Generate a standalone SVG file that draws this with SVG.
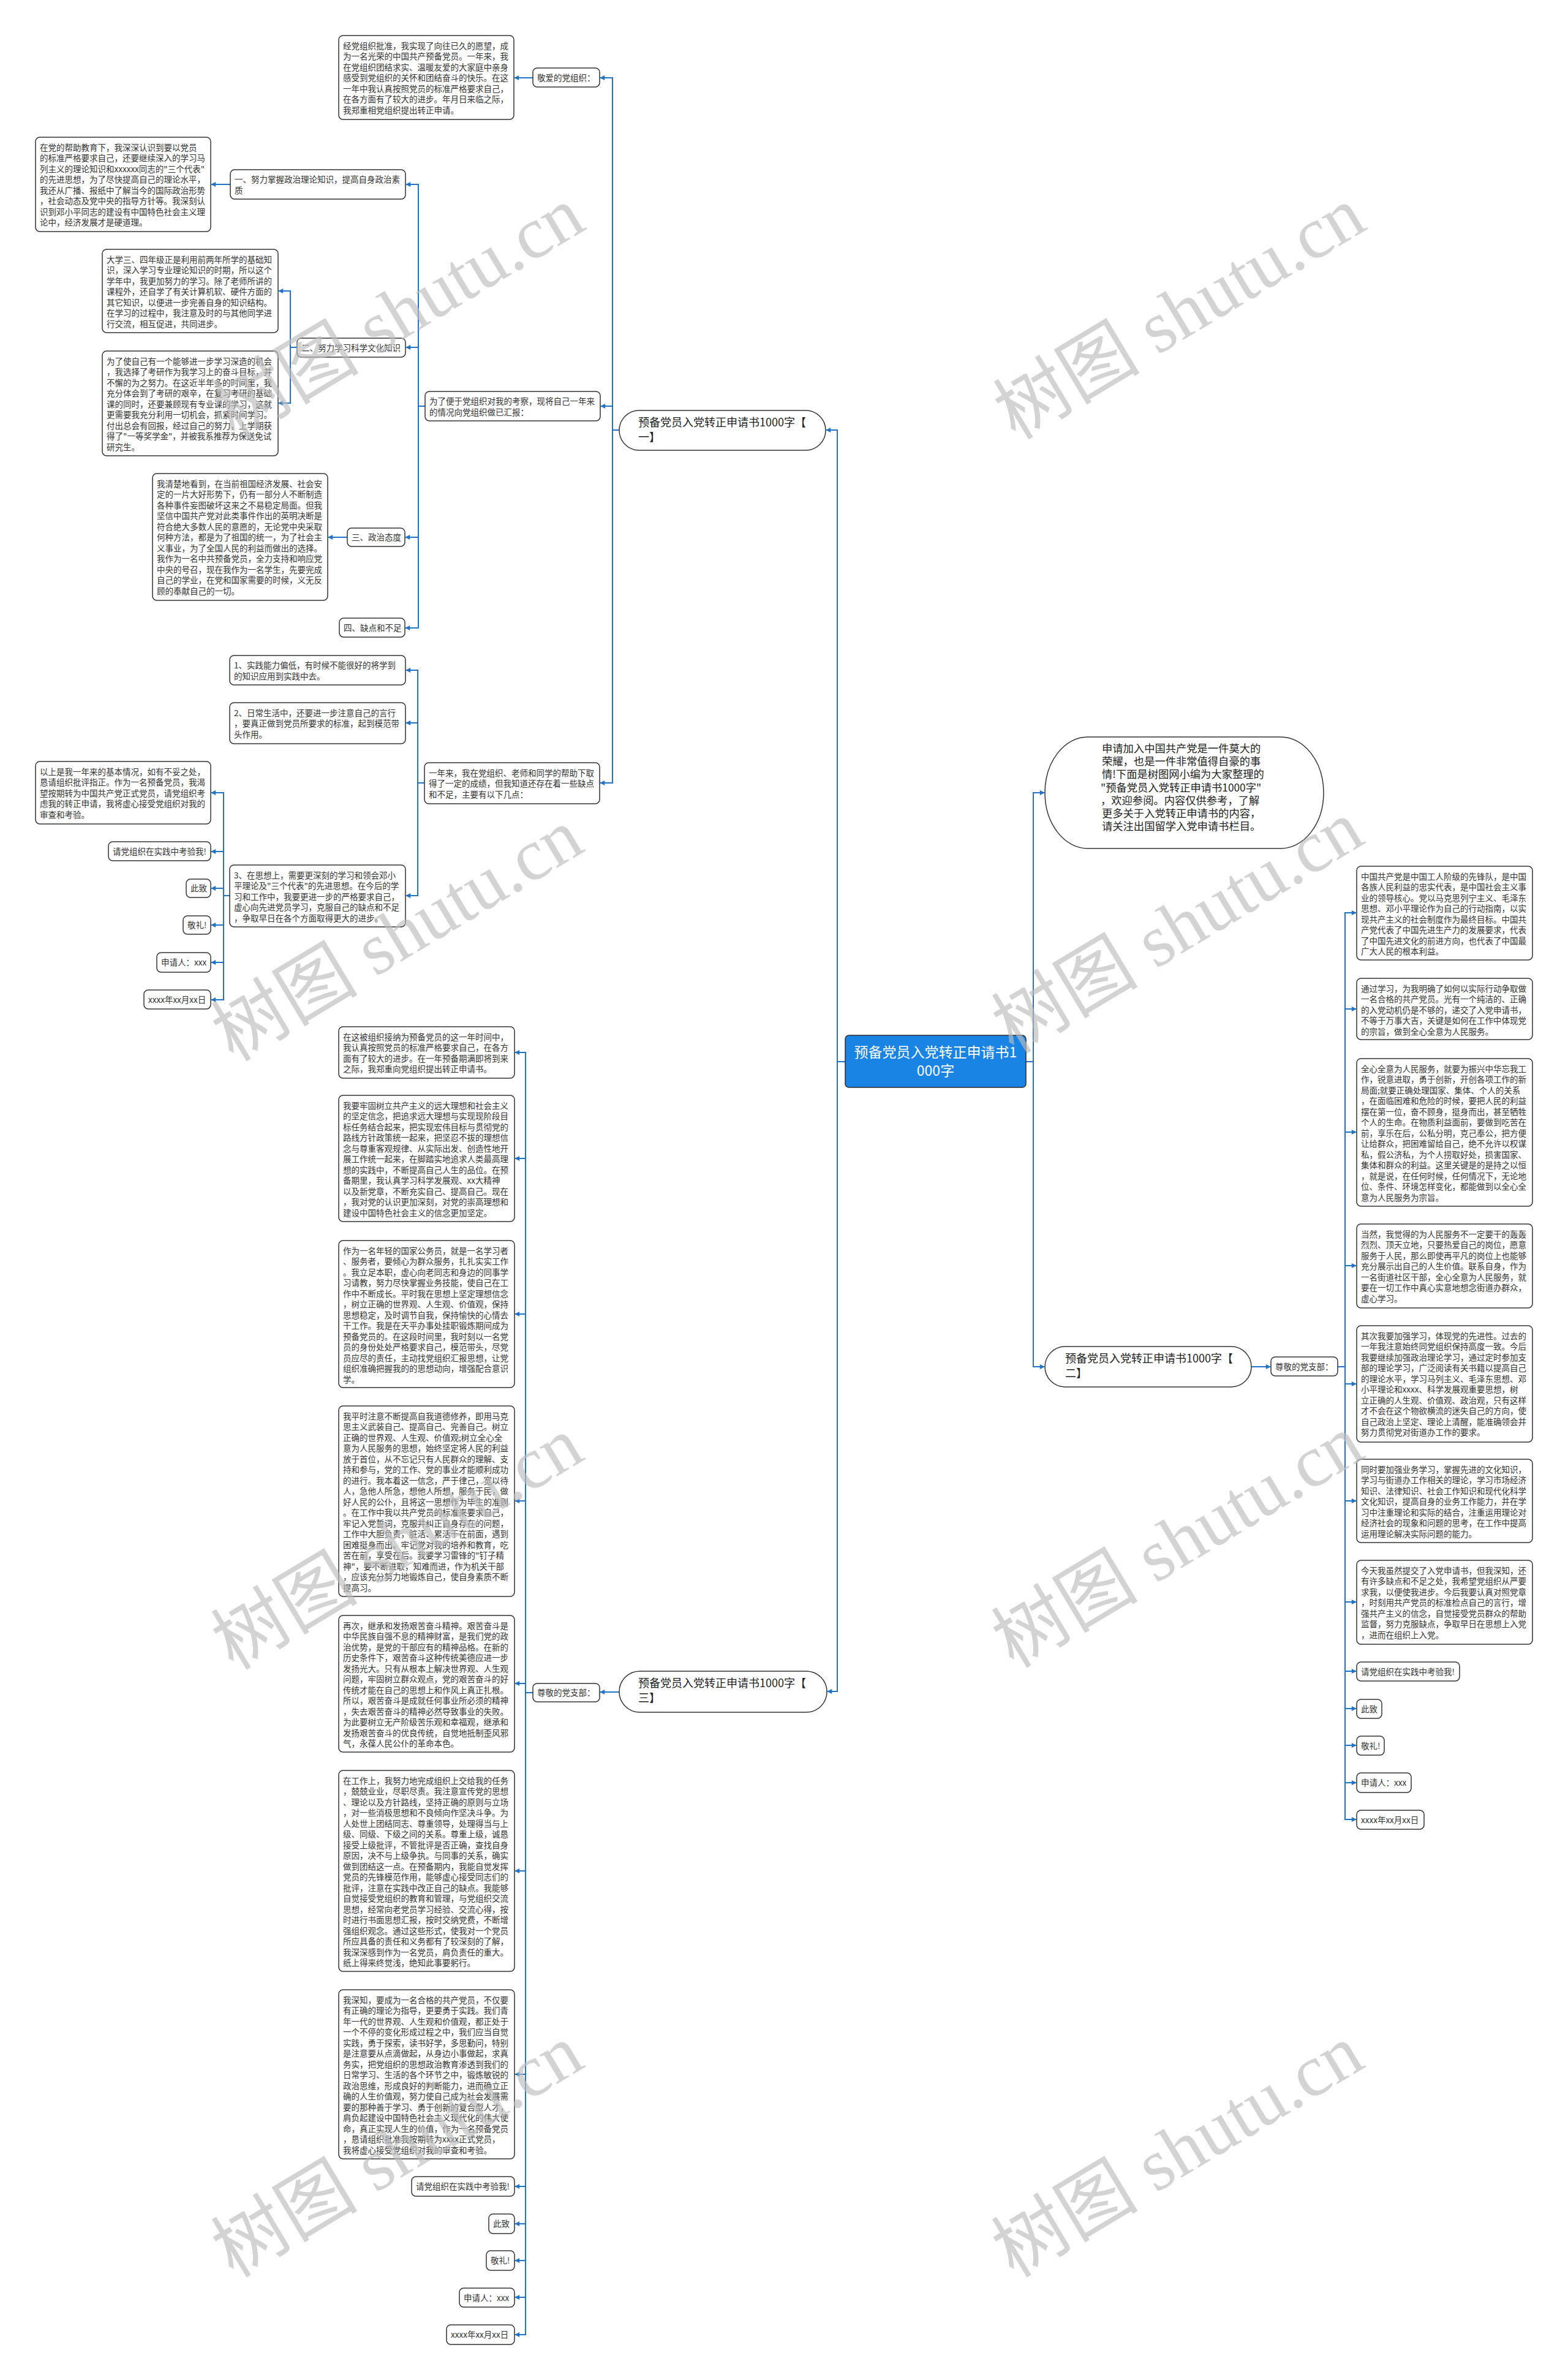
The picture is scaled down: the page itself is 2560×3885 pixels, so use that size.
<svg xmlns="http://www.w3.org/2000/svg" width="2560" height="3885" viewBox="0 0 2560 3885">
<style>
.n{fill:#fff;stroke:#333;stroke-width:1.5}
.t{font-family:"Noto Sans CJK SC","Liberation Sans",sans-serif;font-size:13.5px;fill:#333}
.ti{font-family:"Noto Sans CJK SC","Liberation Sans",sans-serif;font-size:18px;fill:#222}
.it{font-family:"Noto Sans CJK SC","Liberation Sans",sans-serif;font-size:17.3px;fill:#222}
.c{fill:#1a84e4;stroke:#2b2b2b;stroke-width:1.5}
.ct{font-family:"Noto Sans CJK SC","Liberation Sans",sans-serif;font-size:23px;fill:#fff;text-anchor:middle}
.e{fill:none;stroke:#1f73c9;stroke-width:2;marker-end:url(#a)}
.wm{font-family:"Liberation Serif","Noto Sans CJK SC",serif;font-size:120px;fill:#bdbdbd;opacity:.65;text-anchor:middle}
</style>
<defs>
<marker id="a" viewBox="0 0 10 10" refX="9" refY="5" markerWidth="9" markerHeight="8" markerUnits="userSpaceOnUse" orient="auto"><path d="M0,0 L10,5 L0,10 z" fill="#1f73c9"/></marker>
</defs>
<rect width="2560" height="3885" fill="#fff"/>

<g id="connectors">
<path class="e" d="M1380,1733 H1367 V702 H1349"/>
<path class="e" d="M1380,1733 H1367 V2761 H1351"/>
<path class="e" d="M1675,1733 H1687 V1294 H1705"/>
<path class="e" d="M1675,1733 H1687 V2231 H1705"/>
<path class="e" d="M1011,702 H1000 V127 H980"/>
<path class="e" d="M1011,702 H1000 V663 H981"/>
<path class="e" d="M1011,702 H1000 V1278 H980"/>
<path class="e" d="M870,127 H840"/>
<path class="e" d="M694,663 H683 V301 H663"/>
<path class="e" d="M694,663 H683 V567 H663"/>
<path class="e" d="M694,663 H683 V877 H662"/>
<path class="e" d="M694,663 H683 V1025 H662"/>
<path class="e" d="M376,301 H345"/>
<path class="e" d="M485,567 H474 V475 H455"/>
<path class="e" d="M485,567 H474 V658 H455"/>
<path class="e" d="M567,877 H536"/>
<path class="e" d="M693,1278 H682 V1094 H663"/>
<path class="e" d="M693,1278 H682 V1180 H663"/>
<path class="e" d="M693,1278 H682 V1462 H663"/>
<path class="e" d="M375,1462 H365 V1294 H345"/>
<path class="e" d="M375,1462 H365 V1390 H345"/>
<path class="e" d="M375,1462 H365 V1450 H345"/>
<path class="e" d="M375,1462 H365 V1510 H345"/>
<path class="e" d="M375,1462 H365 V1571 H345"/>
<path class="e" d="M375,1462 H365 V1632 H345"/>
<path class="e" d="M1011,2762 H980"/>
<path class="e" d="M870,2763 H858 V1718 H841"/>
<path class="e" d="M870,2763 H858 V1891 H841"/>
<path class="e" d="M870,2763 H858 V2145 H841"/>
<path class="e" d="M870,2763 H858 V2450 H841"/>
<path class="e" d="M870,2763 H858 V2748 H841"/>
<path class="e" d="M870,2763 H858 V3054 H841"/>
<path class="e" d="M870,2763 H858 V3386 H841"/>
<path class="e" d="M870,2763 H858 V3569 H841"/>
<path class="e" d="M870,2763 H858 V3630 H841"/>
<path class="e" d="M870,2763 H858 V3690 H841"/>
<path class="e" d="M870,2763 H858 V3750 H841"/>
<path class="e" d="M870,2763 H858 V3811 H841"/>
<path class="e" d="M2043,2231 H2074"/>
<path class="e" d="M2184,2231 H2196 V1490 H2214"/>
<path class="e" d="M2184,2231 H2196 V1647 H2214"/>
<path class="e" d="M2184,2231 H2196 V1848 H2214"/>
<path class="e" d="M2184,2231 H2196 V2066 H2214"/>
<path class="e" d="M2184,2231 H2196 V2259 H2214"/>
<path class="e" d="M2184,2231 H2196 V2450 H2214"/>
<path class="e" d="M2184,2231 H2196 V2615 H2214"/>
<path class="e" d="M2184,2231 H2196 V2728 H2214"/>
<path class="e" d="M2184,2231 H2196 V2789 H2214"/>
<path class="e" d="M2184,2231 H2196 V2849 H2214"/>
<path class="e" d="M2184,2231 H2196 V2910 H2214"/>
<path class="e" d="M2184,2231 H2196 V2970 H2214"/>
</g>

<g id="center"><rect class="c" x="1380" y="1690" width="295" height="85" rx="6"/><text class="ct" x="1527.5" y="1726">预备党员入党转正申请书1<tspan x="1527.5" dy="30">000字</tspan></text></g>

<g id="intro"><rect class="n" x="1706" y="1203" width="455" height="182" rx="70" ry="91"/><text class="it" x="1797" y="1228"><tspan x="1799">申请加入中国共产党是一件莫大的</tspan><tspan x="1799" dy="21.2">荣耀，也是一件非常值得自豪的事</tspan><tspan x="1799" dy="21.2">情!下面是树图网小编为大家整理的</tspan><tspan x="1797" dy="21.2">"预备党员入党转正申请书1000字"</tspan><tspan x="1797" dy="21.2">，欢迎参阅。内容仅供参考，了解</tspan><tspan x="1799" dy="21.2">更多关于入党转正申请书的内容，</tspan><tspan x="1799" dy="21.2">请关注出国留学入党申请书栏目。</tspan></text></g>

<g id="title1"><rect class="n" x="1011" y="670" width="337" height="65" rx="32.5"/><text class="ti" x="1042" y="696">预备党员入党转正申请书1000字【<tspan x="1042" dy="24">一】</tspan></text></g>
<g id="title2"><rect class="n" x="1706" y="2198" width="337" height="66" rx="33"/><text class="ti" x="1739" y="2224">预备党员入党转正申请书1000字【<tspan x="1739" dy="24">二】</tspan></text></g>
<g id="title3"><rect class="n" x="1011" y="2728" width="339" height="67" rx="33.5"/><text class="ti" x="1042" y="2754">预备党员入党转正申请书1000字【<tspan x="1042" dy="24">三】</tspan></text></g>

<g id="n1-label"><rect class="n" x="870" y="111" width="109" height="31" rx="7"/><text class="t" x="877" y="131.5">敬爱的党组织：</text></g>
<g id="n1-top"><rect class="n" x="553" y="58" width="286" height="137" rx="7"/><text class="t" x="560" y="79.5"><tspan x="560">经党组织批准，我实现了向往已久的愿望，成</tspan><tspan x="560" dy="17.5">为一名光荣的中国共产预备党员。一年来，我</tspan><tspan x="560" dy="17.5">在党组织团结求实、温暖友爱的大家庭中亲身</tspan><tspan x="560" dy="17.5">感受到党组织的关怀和团结奋斗的快乐。在这</tspan><tspan x="560" dy="17.5">一年中我认真按照党员的标准严格要求自己，</tspan><tspan x="560" dy="17.5">在各方面有了较大的进步。年月日来临之际，</tspan><tspan x="560" dy="17.5">我郑重相党组织提出转正申请。</tspan></text></g>
<g id="n1-report"><rect class="n" x="694" y="639" width="286" height="48" rx="7"/><text class="t" x="701" y="660"><tspan x="701">为了便于党组织对我的考察，现将自己一年来</tspan><tspan x="701" dy="17.5">的情况向党组织做已汇报：</tspan></text></g>
<g id="n1-s1"><rect class="n" x="376" y="277" width="286" height="48" rx="7"/><text class="t" x="383" y="298"><tspan x="383">一、努力掌握政治理论知识，提高自身政治素</tspan><tspan x="383" dy="17.5">质</tspan></text></g>
<g id="n1-s1a"><rect class="n" x="58" y="224" width="286" height="154" rx="7"/><text class="t" x="65" y="245.5"><tspan x="65">在党的帮助教育下，我深深认识到要以党员</tspan><tspan x="65" dy="17.5">的标准严格要求自己，还要继续深入的学习马</tspan><tspan x="65" dy="17.5">列主义的理论知识和xxxxxx同志的"三个代表"</tspan><tspan x="65" dy="17.5">的先进思想，为了尽快提高自己的理论水平，</tspan><tspan x="65" dy="17.5">我还从广播、报纸中了解当今的国际政治形势</tspan><tspan x="65" dy="17.5">，社会动态及党中央的指导方针等。我深刻认</tspan><tspan x="65" dy="17.5">识到邓小平同志的建设有中国特色社会主义理</tspan><tspan x="65" dy="17.5">论中，经济发展才是硬道理。</tspan></text></g>
<g id="n1-s2"><rect class="n" x="485" y="552" width="177" height="31" rx="7"/><text class="t" x="492" y="572.5">二、努力学习科学文化知识</text></g>
<g id="n1-s2a"><rect class="n" x="167" y="407" width="287" height="136" rx="7"/><text class="t" x="174" y="428.5"><tspan x="174">大学三、四年级正是利用前两年所学的基础知</tspan><tspan x="174" dy="17.5">识，深入学习专业理论知识的时期，所以这个</tspan><tspan x="174" dy="17.5">学年中，我更加努力的学习。除了老师所讲的</tspan><tspan x="174" dy="17.5">课程外，还自学了有关计算机软、硬件方面的</tspan><tspan x="174" dy="17.5">其它知识，以便进一步完善自身的知识结构。</tspan><tspan x="174" dy="17.5">在学习的过程中，我注意及时的与其他同学进</tspan><tspan x="174" dy="17.5">行交流，相互促进，共同进步。</tspan></text></g>
<g id="n1-s2b"><rect class="n" x="167" y="573" width="287" height="171" rx="7"/><text class="t" x="174" y="594.5"><tspan x="174">为了使自己有一个能够进一步学习深造的机会</tspan><tspan x="174" dy="17.5">，我选择了考研作为我学习上的奋斗目标，并</tspan><tspan x="174" dy="17.5">不懈的为之努力。在这近半年多的时间里，我</tspan><tspan x="174" dy="17.5">充分体会到了考研的艰辛，在复习考研的基础</tspan><tspan x="174" dy="17.5">课的同时，还要兼顾现有专业课的学习，这就</tspan><tspan x="174" dy="17.5">更需要我充分利用一切机会，抓紧时间学习。</tspan><tspan x="174" dy="17.5">付出总会有回报，经过自己的努力，上学期获</tspan><tspan x="174" dy="17.5">得了"一等奖学金"，并被我系推荐为保送免试</tspan><tspan x="174" dy="17.5">研究生。</tspan></text></g>
<g id="n1-s3"><rect class="n" x="567" y="862" width="94" height="30" rx="7"/><text class="t" x="574" y="882">三、政治态度</text></g>
<g id="n1-s3a"><rect class="n" x="249" y="773" width="286" height="207" rx="7"/><text class="t" x="256" y="794.5"><tspan x="256">我清楚地看到，在当前祖国经济发展、社会安</tspan><tspan x="256" dy="17.5">定的一片大好形势下，仍有一部分人不断制造</tspan><tspan x="256" dy="17.5">各种事件妄图破坏这来之不易稳定局面。但我</tspan><tspan x="256" dy="17.5">坚信中国共产党对此类事件作出的英明决断是</tspan><tspan x="256" dy="17.5">符合绝大多数人民的意愿的，无论党中央采取</tspan><tspan x="256" dy="17.5">何种方法，都是为了祖国的统一，为了社会主</tspan><tspan x="256" dy="17.5">义事业，为了全国人民的利益而做出的选择。</tspan><tspan x="256" dy="17.5">我作为一名中共预备党员，全力支持和响应党</tspan><tspan x="256" dy="17.5">中央的号召，现在我作为一名学生，先要完成</tspan><tspan x="256" dy="17.5">自己的学业，在党和国家需要的时候，义无反</tspan><tspan x="256" dy="17.5">顾的奉献自己的一切。</tspan></text></g>
<g id="n1-s4"><rect class="n" x="554" y="1009" width="107" height="31" rx="7"/><text class="t" x="561" y="1029.5">四、缺点和不足</text></g>
<g id="n1-year"><rect class="n" x="693" y="1245" width="286" height="67" rx="7"/><text class="t" x="700" y="1266.5"><tspan x="700">一年来，我在党组织、老师和同学的帮助下取</tspan><tspan x="700" dy="17.5">得了一定的成绩，但我知道还存在着一些缺点</tspan><tspan x="700" dy="17.5">和不足，主要有以下几点：</tspan></text></g>
<g id="n1-y1"><rect class="n" x="375" y="1070" width="287" height="48" rx="7"/><text class="t" x="382" y="1091"><tspan x="382">1、实践能力偏低，有时候不能很好的将学到</tspan><tspan x="382" dy="17.5">的知识应用到实践中去。</tspan></text></g>
<g id="n1-y2"><rect class="n" x="375" y="1147" width="287" height="67" rx="7"/><text class="t" x="382" y="1168.5"><tspan x="382">2、日常生活中，还要进一步注意自己的言行</tspan><tspan x="382" dy="17.5">，要真正做到党员所要求的标准，起到模范带</tspan><tspan x="382" dy="17.5">头作用。</tspan></text></g>
<g id="n1-y3"><rect class="n" x="375" y="1412" width="287" height="101" rx="7"/><text class="t" x="382" y="1433.5"><tspan x="382">3、在思想上，需要更深刻的学习和领会邓小</tspan><tspan x="382" dy="17.5">平理论及"三个代表"的先进思想。在今后的学</tspan><tspan x="382" dy="17.5">习和工作中，我要更进一步的严格要求自己，</tspan><tspan x="382" dy="17.5">虚心向先进党员学习，克服自己的缺点和不足</tspan><tspan x="382" dy="17.5">，争取早日在各个方面取得更大的进步。</tspan></text></g>
<g id="n1-e1"><rect class="n" x="58" y="1243" width="286" height="102" rx="7"/><text class="t" x="65" y="1264.5"><tspan x="65">以上是我一年来的基本情况，如有不妥之处，</tspan><tspan x="65" dy="17.5">恳请组织批评指正。作为一名预备党员，我渴</tspan><tspan x="65" dy="17.5">望按期转为中国共产党正式党员，请党组织考</tspan><tspan x="65" dy="17.5">虑我的转正申请，我将虚心接受党组织对我的</tspan><tspan x="65" dy="17.5">审查和考验。</tspan></text></g>
<g id="n1-e2"><rect class="n" x="177" y="1374" width="167" height="31" rx="7"/><text class="t" x="184" y="1394.5">请党组织在实践中考验我!</text></g>
<g id="n1-e3"><rect class="n" x="304" y="1435" width="40" height="30" rx="7"/><text class="t" x="311" y="1455">此致</text></g>
<g id="n1-e4"><rect class="n" x="299" y="1495" width="45" height="30" rx="7"/><text class="t" x="306" y="1515">敬礼!</text></g>
<g id="n1-e5"><rect class="n" x="256" y="1555" width="88" height="32" rx="7"/><text class="t" x="263" y="1576">申请人：xxx</text></g>
<g id="n1-e6"><rect class="n" x="235" y="1616" width="109" height="31" rx="7"/><text class="t" x="242" y="1636.5">xxxx年xx月xx日</text></g>

<g id="n2-label"><rect class="n" x="2075" y="2215" width="109" height="31" rx="7"/><text class="t" x="2082" y="2235.5">尊敬的党支部：</text></g>
<g id="n2-b1"><rect class="n" x="2215" y="1414" width="287" height="153" rx="7"/><text class="t" x="2222" y="1435.5"><tspan x="2222">中国共产党是中国工人阶级的先锋队，是中国</tspan><tspan x="2222" dy="17.5">各族人民利益的忠实代表，是中国社会主义事</tspan><tspan x="2222" dy="17.5">业的领导核心。党以马克思列宁主义、毛泽东</tspan><tspan x="2222" dy="17.5">思想、邓小平理论作为自己的行动指南，以实</tspan><tspan x="2222" dy="17.5">现共产主义的社会制度作为最终目标。中国共</tspan><tspan x="2222" dy="17.5">产党代表了中国先进生产力的发展要求，代表</tspan><tspan x="2222" dy="17.5">了中国先进文化的前进方向，也代表了中国最</tspan><tspan x="2222" dy="17.5">广大人民的根本利益。</tspan></text></g>
<g id="n2-b2"><rect class="n" x="2215" y="1597" width="287" height="100" rx="7"/><text class="t" x="2222" y="1618.5"><tspan x="2222">通过学习，为我明确了如何以实际行动争取做</tspan><tspan x="2222" dy="17.5">一名合格的共产党员。光有一个纯洁的、正确</tspan><tspan x="2222" dy="17.5">的入党动机仍是不够的，递交了入党申请书，</tspan><tspan x="2222" dy="17.5">不等于万事大吉，关键是如何在工作中体现党</tspan><tspan x="2222" dy="17.5">的宗旨，做到全心全意为人民服务。</tspan></text></g>
<g id="n2-b3"><rect class="n" x="2215" y="1728" width="287" height="241" rx="7"/><text class="t" x="2222" y="1749.5"><tspan x="2222">全心全意为人民服务，就要为振兴中华忘我工</tspan><tspan x="2222" dy="17.5">作，锐意进取，勇于创新，开创各项工作的新</tspan><tspan x="2222" dy="17.5">局面;就要正确处理国家、集体、个人的关系</tspan><tspan x="2222" dy="17.5">，在面临困难和危险的时候，要把人民的利益</tspan><tspan x="2222" dy="17.5">摆在第一位，奋不顾身，挺身而出，甚至牺牲</tspan><tspan x="2222" dy="17.5">个人的生命。在物质利益面前，要做到吃苦在</tspan><tspan x="2222" dy="17.5">前，享乐在后，公私分明，克己奉公，把方便</tspan><tspan x="2222" dy="17.5">让给群众，把困难留给自己，绝不允许以权谋</tspan><tspan x="2222" dy="17.5">私，假公济私，为个人捞取好处，损害国家、</tspan><tspan x="2222" dy="17.5">集体和群众的利益。这里关键是的是持之以恒</tspan><tspan x="2222" dy="17.5">，就是说，在任何时候，任何情况下，无论地</tspan><tspan x="2222" dy="17.5">位、条件、环境怎样变化，都能做到以全心全</tspan><tspan x="2222" dy="17.5">意为人民服务为宗旨。</tspan></text></g>
<g id="n2-b4"><rect class="n" x="2215" y="1998" width="287" height="137" rx="7"/><text class="t" x="2222" y="2019.5"><tspan x="2222">当然，我觉得的为人民服务不一定要干的轰轰</tspan><tspan x="2222" dy="17.5">烈烈、顶天立地，只要热爱自己的岗位，愿意</tspan><tspan x="2222" dy="17.5">服务于人民，那么即使再平凡的岗位上也能够</tspan><tspan x="2222" dy="17.5">充分展示出自己的人生价值。联系自身，作为</tspan><tspan x="2222" dy="17.5">一名街道社区干部，全心全意为人民服务，就</tspan><tspan x="2222" dy="17.5">要在一切工作中真心实意地想念街道办群众，</tspan><tspan x="2222" dy="17.5">虚心学习。</tspan></text></g>
<g id="n2-b5"><rect class="n" x="2215" y="2164" width="287" height="190" rx="7"/><text class="t" x="2222" y="2185.5"><tspan x="2222">其次我要加强学习，体现党的先进性。过去的</tspan><tspan x="2222" dy="17.5">一年我注意始终同党组织保持高度一致。今后</tspan><tspan x="2222" dy="17.5">我要继续加强政治理论学习，通过定时参加支</tspan><tspan x="2222" dy="17.5">部的理论学习，广泛阅读有关书籍以提高自己</tspan><tspan x="2222" dy="17.5">的理论水平，学习马列主义、毛泽东思想、邓</tspan><tspan x="2222" dy="17.5">小平理论和xxxx、科学发展观重要思想，树</tspan><tspan x="2222" dy="17.5">立正确的人生观、价值观、政治观，只有这样</tspan><tspan x="2222" dy="17.5">才不会在这个物欲横流的迷失自己的方向，使</tspan><tspan x="2222" dy="17.5">自己政治上坚定、理论上清醒，能准确领会并</tspan><tspan x="2222" dy="17.5">努力贯彻党对街道办工作的要求。</tspan></text></g>
<g id="n2-b6"><rect class="n" x="2215" y="2382" width="287" height="136" rx="7"/><text class="t" x="2222" y="2403.5"><tspan x="2222">同时要加强业务学习，掌握先进的文化知识，</tspan><tspan x="2222" dy="17.5">学习与街道办工作相关的理论，学习市场经济</tspan><tspan x="2222" dy="17.5">知识、法律知识、社会工作知识和现代化科学</tspan><tspan x="2222" dy="17.5">文化知识，提高自身的业务工作能力，并在学</tspan><tspan x="2222" dy="17.5">习中注重理论和实际的结合，注重运用理论对</tspan><tspan x="2222" dy="17.5">经济社会的现象和问题的思考，在工作中提高</tspan><tspan x="2222" dy="17.5">运用理论解决实际问题的能力。</tspan></text></g>
<g id="n2-b7"><rect class="n" x="2215" y="2547" width="287" height="137" rx="7"/><text class="t" x="2222" y="2568.5"><tspan x="2222">今天我虽然提交了入党申请书，但我深知，还</tspan><tspan x="2222" dy="17.5">有许多缺点和不足之处，我希望党组织从严要</tspan><tspan x="2222" dy="17.5">求我，以便使我进步。今后我要认真对照党章</tspan><tspan x="2222" dy="17.5">，时刻用共产党员的标准检点自己的言行，增</tspan><tspan x="2222" dy="17.5">强共产主义的信念，自觉接受党员群众的帮助</tspan><tspan x="2222" dy="17.5">监督，努力克服缺点，争取早日在思想上入党</tspan><tspan x="2222" dy="17.5">，进而在组织上入党。</tspan></text></g>
<g id="n2-e1"><rect class="n" x="2215" y="2713" width="168" height="31" rx="7"/><text class="t" x="2222" y="2733.5">请党组织在实践中考验我!</text></g>
<g id="n2-e2"><rect class="n" x="2215" y="2774" width="41" height="31" rx="7"/><text class="t" x="2222" y="2794.5">此致</text></g>
<g id="n2-e3"><rect class="n" x="2215" y="2834" width="45" height="31" rx="7"/><text class="t" x="2222" y="2854.5">敬礼!</text></g>
<g id="n2-e4"><rect class="n" x="2215" y="2894" width="89" height="32" rx="7"/><text class="t" x="2222" y="2915">申请人：xxx</text></g>
<g id="n2-e5"><rect class="n" x="2215" y="2955" width="110" height="31" rx="7"/><text class="t" x="2222" y="2975.5">xxxx年xx月xx日</text></g>

<g id="n3-label"><rect class="n" x="870" y="2748" width="109" height="30" rx="7"/><text class="t" x="877" y="2768">尊敬的党支部：</text></g>
<g id="n3-b1"><rect class="n" x="553" y="1676" width="287" height="84" rx="7"/><text class="t" x="560" y="1697.5"><tspan x="560">在这被组织接纳为预备党员的这一年时间中，</tspan><tspan x="560" dy="17.5">我认真按照党员的标准严格要求自己，在各方</tspan><tspan x="560" dy="17.5">面有了较大的进步。在一年预备期满即将到来</tspan><tspan x="560" dy="17.5">之际，我郑重向党组织提出转正申请书。</tspan></text></g>
<g id="n3-b2"><rect class="n" x="553" y="1788" width="287" height="206" rx="7"/><text class="t" x="560" y="1809.5"><tspan x="560">我要牢固树立共产主义的远大理想和社会主义</tspan><tspan x="560" dy="17.5">的坚定信念，把追求远大理想与实现现阶段目</tspan><tspan x="560" dy="17.5">标任务结合起来，把实现宏伟目标与贯彻党的</tspan><tspan x="560" dy="17.5">路线方针政策统一起来，把坚忍不拔的理想信</tspan><tspan x="560" dy="17.5">念与尊重客观规律、从实际出发、创造性地开</tspan><tspan x="560" dy="17.5">展工作统一起来，在脚踏实地追求人类最高理</tspan><tspan x="560" dy="17.5">想的实践中，不断提高自己人生的品位。在预</tspan><tspan x="560" dy="17.5">备期里，我认真学习科学发展观、xx大精神</tspan><tspan x="560" dy="17.5">以及新党章，不断充实自己、提高自己。现在</tspan><tspan x="560" dy="17.5">，我对党的认识更加深刻，对党的崇高理想和</tspan><tspan x="560" dy="17.5">建设中国特色社会主义的信念更加坚定。</tspan></text></g>
<g id="n3-b3"><rect class="n" x="553" y="2025" width="287" height="240" rx="7"/><text class="t" x="560" y="2046.5"><tspan x="560">作为一名年轻的国家公务员，就是一名学习者</tspan><tspan x="560" dy="17.5">、服务者，要倾心为群众服务，扎扎实实工作</tspan><tspan x="560" dy="17.5">。我立足本职，虚心向老同志和身边的同事学</tspan><tspan x="560" dy="17.5">习请教，努力尽快掌握业务技能，使自己在工</tspan><tspan x="560" dy="17.5">作中不断成长。平时我在思想上坚定理想信念</tspan><tspan x="560" dy="17.5">，树立正确的世界观、人生观、价值观，保持</tspan><tspan x="560" dy="17.5">思想稳定，及时调节自我，保持愉快的心情去</tspan><tspan x="560" dy="17.5">干工作。我是在天平办事处挂职锻炼期间成为</tspan><tspan x="560" dy="17.5">预备党员的。在这段时间里，我时刻以一名党</tspan><tspan x="560" dy="17.5">员的身份处处严格要求自己，模范带头，尽党</tspan><tspan x="560" dy="17.5">员应尽的责任，主动找党组织汇报思想，让党</tspan><tspan x="560" dy="17.5">组织准确把握我的的思想动向，增强配合意识</tspan><tspan x="560" dy="17.5">学。</tspan></text></g>
<g id="n3-b4"><rect class="n" x="553" y="2295" width="287" height="311" rx="7"/><text class="t" x="560" y="2316.5"><tspan x="560">我平时注意不断提高自我道德修养，即用马克</tspan><tspan x="560" dy="17.5">思主义武装自己、提高自己、完善自己。树立</tspan><tspan x="560" dy="17.5">正确的世界观、人生观、价值观;树立全心全</tspan><tspan x="560" dy="17.5">意为人民服务的思想，始终坚定将人民的利益</tspan><tspan x="560" dy="17.5">放于首位，从不忘记只有人民群众的理解、支</tspan><tspan x="560" dy="17.5">持和参与，党的工作、党的事业才能顺利成功</tspan><tspan x="560" dy="17.5">的进行。我本着这一信念，严于律己，宽以待</tspan><tspan x="560" dy="17.5">人，急他人所急，想他人所想，服务于民，做</tspan><tspan x="560" dy="17.5">好人民的公仆，且将这一思想作为毕生的准则</tspan><tspan x="560" dy="17.5">。在工作中我以共产党员的标准来要求自己，</tspan><tspan x="560" dy="17.5">牢记入党誓词，克服并纠正自身存在的问题，</tspan><tspan x="560" dy="17.5">工作中大胆负责，脏活、累活干在前面，遇到</tspan><tspan x="560" dy="17.5">困难挺身而出。牢记党对我的培养和教育，吃</tspan><tspan x="560" dy="17.5">苦在前，享受在后。我要学习雷锋的"钉子精</tspan><tspan x="560" dy="17.5">神"，要不断进取，知难而进，作为机关干部</tspan><tspan x="560" dy="17.5">，应该充分努力地锻炼自己，使自身素质不断</tspan><tspan x="560" dy="17.5">提高习。</tspan></text></g>
<g id="n3-b5"><rect class="n" x="553" y="2637" width="287" height="223" rx="7"/><text class="t" x="560" y="2658.5"><tspan x="560">再次，继承和发扬艰苦奋斗精神。艰苦奋斗是</tspan><tspan x="560" dy="17.5">中华民族自强不息的精神财富，是我们党的政</tspan><tspan x="560" dy="17.5">治优势，是党的干部应有的精神品格。在新的</tspan><tspan x="560" dy="17.5">历史条件下，艰苦奋斗这种传统美德应进一步</tspan><tspan x="560" dy="17.5">发扬光大。只有从根本上解决世界观、人生观</tspan><tspan x="560" dy="17.5">问题，牢固树立群众观点，党的艰苦奋斗的好</tspan><tspan x="560" dy="17.5">传统才能在自己的思想上和作风上真正扎根。</tspan><tspan x="560" dy="17.5">所以，艰苦奋斗是成就任何事业所必须的精神</tspan><tspan x="560" dy="17.5">，失去艰苦奋斗的精神必然导致事业的失败。</tspan><tspan x="560" dy="17.5">为此要树立无产阶级苦乐观和幸福观，继承和</tspan><tspan x="560" dy="17.5">发扬艰苦奋斗的优良传统，自觉地抵制歪风邪</tspan><tspan x="560" dy="17.5">气，永葆人民公仆的革命本色。</tspan></text></g>
<g id="n3-b6"><rect class="n" x="553" y="2890" width="287" height="328" rx="7"/><text class="t" x="560" y="2911.5"><tspan x="560">在工作上，我努力地完成组织上交给我的任务</tspan><tspan x="560" dy="17.5">，兢兢业业，尽职尽责。我注意宣传党的思想</tspan><tspan x="560" dy="17.5">、理论以及方针路线，坚持正确的原则与立场</tspan><tspan x="560" dy="17.5">，对一些消极思想和不良倾向作坚决斗争。为</tspan><tspan x="560" dy="17.5">人处世上团结同志、尊重领导，处理得当与上</tspan><tspan x="560" dy="17.5">级、同级、下级之间的关系。尊重上级，诚恳</tspan><tspan x="560" dy="17.5">接受上级批评，不管批评是否正确，查找自身</tspan><tspan x="560" dy="17.5">原因，决不与上级争执。与同事的关系，确实</tspan><tspan x="560" dy="17.5">做到团结这一点。在预备期内，我能自觉发挥</tspan><tspan x="560" dy="17.5">党员的先锋模范作用，能够虚心接受同志们的</tspan><tspan x="560" dy="17.5">批评，注意在实践中改正自己的缺点。我能够</tspan><tspan x="560" dy="17.5">自觉接受党组织的教育和管理，与党组织交流</tspan><tspan x="560" dy="17.5">思想，经常向老党员学习经验、交流心得，按</tspan><tspan x="560" dy="17.5">时进行书面思想汇报，按时交纳党费，不断增</tspan><tspan x="560" dy="17.5">强组织观念。通过这些形式，使我对一个党员</tspan><tspan x="560" dy="17.5">所应具备的责任和义务都有了较深刻的了解，</tspan><tspan x="560" dy="17.5">我深深感到作为一名党员，肩负责任的重大。</tspan><tspan x="560" dy="17.5">纸上得来终觉浅，绝知此事要躬行。</tspan></text></g>
<g id="n3-b7"><rect class="n" x="553" y="3248" width="287" height="276" rx="7"/><text class="t" x="560" y="3269.5"><tspan x="560">我深知，要成为一名合格的共产党员，不仅要</tspan><tspan x="560" dy="17.5">有正确的理论为指导，更要勇于实践。我们青</tspan><tspan x="560" dy="17.5">年一代的世界观、人生观和价值观，都正处于</tspan><tspan x="560" dy="17.5">一个不停的变化形成过程之中，我们应当自觉</tspan><tspan x="560" dy="17.5">实践，勇于探索，读书好学，多思勤问，特别</tspan><tspan x="560" dy="17.5">是注意要从点滴做起，从身边小事做起，求真</tspan><tspan x="560" dy="17.5">务实，把党组织的思想政治教育渗透到我们的</tspan><tspan x="560" dy="17.5">日常学习、生活的各个环节之中，锻炼敏锐的</tspan><tspan x="560" dy="17.5">政治思维，形成良好的判断能力，进而确立正</tspan><tspan x="560" dy="17.5">确的人生价值观，努力使自己成为社会发展需</tspan><tspan x="560" dy="17.5">要的那种善于学习、勇于创新的复合型人才，</tspan><tspan x="560" dy="17.5">肩负起建设中国特色社会主义现代化的伟大使</tspan><tspan x="560" dy="17.5">命，真正实现人生的价值，作为一名预备党员</tspan><tspan x="560" dy="17.5">，恳请组织批准我按期转为xxxx正式党员，</tspan><tspan x="560" dy="17.5">我将虚心接受党组织对我的审查和考验。</tspan></text></g>
<g id="n3-e1"><rect class="n" x="672" y="3553" width="168" height="32" rx="7"/><text class="t" x="679" y="3574">请党组织在实践中考验我!</text></g>
<g id="n3-e2"><rect class="n" x="798" y="3614" width="42" height="32" rx="7"/><text class="t" x="805" y="3635">此致</text></g>
<g id="n3-e3"><rect class="n" x="794" y="3674" width="46" height="32" rx="7"/><text class="t" x="801" y="3695">敬礼!</text></g>
<g id="n3-e4"><rect class="n" x="750" y="3735" width="90" height="31" rx="7"/><text class="t" x="757" y="3755.5">申请人：xxx</text></g>
<g id="n3-e5"><rect class="n" x="729" y="3795" width="111" height="32" rx="7"/><text class="t" x="736" y="3816">xxxx年xx月xx日</text></g>

<g id="watermarks">
<text class="wm" transform="translate(650,510) rotate(-31)" dy="0.35em">树图 shutu.cn</text>
<text class="wm" transform="translate(1925,510) rotate(-31)" dy="0.35em">树图 shutu.cn</text>
<text class="wm" transform="translate(648,1525) rotate(-31)" dy="0.35em">树图 shutu.cn</text>
<text class="wm" transform="translate(1922,1512) rotate(-31)" dy="0.35em">树图 shutu.cn</text>
<text class="wm" transform="translate(648,2518) rotate(-31)" dy="0.35em">树图 shutu.cn</text>
<text class="wm" transform="translate(1922,2515) rotate(-31)" dy="0.35em">树图 shutu.cn</text>
<text class="wm" transform="translate(648,3510) rotate(-31)" dy="0.35em">树图 shutu.cn</text>
<text class="wm" transform="translate(1922,3510) rotate(-31)" dy="0.35em">树图 shutu.cn</text>
</g>
</svg>
